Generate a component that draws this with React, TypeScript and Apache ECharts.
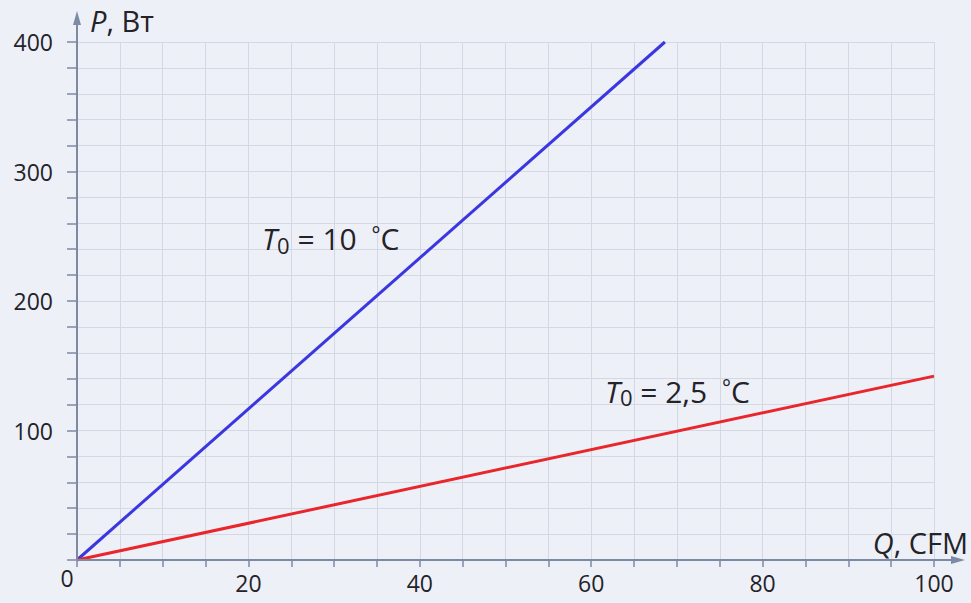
import React, { useEffect, useRef } from 'react';
import * as echarts from 'echarts';

// Data
const blueQ = [0, 68.6];
const blueP = [0, 400];
const redQ = [0, 100];
const redP = [0, 142];
const xLabelValues = [20, 40, 60, 80, 100];
const yLabelValues = [100, 200, 300, 400];
const blueLabel = '{i|T}{s|0}{n| = 10 }{d|°}{n|C}';
const redLabel = '{i|T}{s|0}{n| = 2,5 }{d|°}{n|C}';

const FONT = '"Open Sans", "Noto Sans", sans-serif';
const AXIS = '#7d8aa6';
const TEXT = '#232328';

export default function App() {
  const ref = useRef<HTMLDivElement>(null);
  useEffect(() => {
    if (!ref.current) return;
    const chart = echarts.init(ref.current, null, { renderer: 'svg' });
    chart.setOption({
      animation: false,
      backgroundColor: '#eef0f8',
      textStyle: { fontFamily: FONT },
      grid: { left: 77, right: 37, top: 42, bottom: 43 },
      xAxis: {
        type: 'value', min: 0, max: 100, interval: 5,
        axisLine: { show: false },
        axisTick: { show: true, length: 7, lineStyle: { color: AXIS, width: 1.5 } },
        axisLabel: {
          margin: 11, fontSize: 23, color: TEXT, fontFamily: FONT,
          formatter: (v: number) => (xLabelValues.includes(v) ? String(v) : ''),
        },
        splitLine: { show: true, lineStyle: { color: '#d4d8e5', width: 1 } },
      },
      yAxis: {
        type: 'value', min: 0, max: 400, interval: 20,
        axisLine: { show: false },
        axisTick: { show: true, length: 10, lineStyle: { color: AXIS, width: 1.5 } },
        axisLabel: {
          margin: 24, fontSize: 23, color: TEXT, fontFamily: FONT,
          formatter: (v: number) => (yLabelValues.includes(v) ? String(v) : ''),
        },
        splitLine: { show: true, lineStyle: { color: '#d4d8e5', width: 1 } },
      },
      series: [
        {
          type: 'line', data: blueQ.map((q, i) => [q, blueP[i]]),
          symbol: 'none', lineStyle: { color: '#3a37e0', width: 3 }, z: 5,
        },
        {
          type: 'line', data: redQ.map((q, i) => [q, redP[i]]),
          symbol: 'none', lineStyle: { color: '#e8262b', width: 3 }, z: 5,
        },
      ],
    });
    const o = chart.convertToPixel({ gridIndex: 0 }, [0, 0]) as number[];
    const tr = chart.convertToPixel({ gridIndex: 0 }, [100, 400]) as number[];
    const a1 = chart.convertToPixel({ gridIndex: 0 }, [21.6, 248]) as number[];
    const a2 = chart.convertToPixel({ gridIndex: 0 }, [61.6, 130.5]) as number[];
    const yTip = tr[1] - 31;
    const xTip = tr[0] + 31;
    const mk = (size: number) => ({
      i: { fontStyle: 'italic', fontSize: size, fontFamily: FONT, fill: TEXT, color: TEXT },
      s: { fontSize: Math.round(size * 0.72), fontFamily: FONT, fill: TEXT, color: TEXT, padding: [Math.round(size * 0.4), 0, 0, 0] },
      n: { fontSize: size, fontFamily: FONT, fill: TEXT, color: TEXT },
      d: { fontSize: Math.round(size * 0.7), fontFamily: FONT, fill: TEXT, color: TEXT, padding: [0, 0, Math.round(size * 0.3), 7] },
    });
    const richAnn = mk(30);
    const richName = mk(29);
    chart.setOption({
      graphic: [
        { type: 'line', shape: { x1: o[0], y1: o[1], x2: o[0], y2: yTip + 8 }, style: { stroke: AXIS, lineWidth: 2 }, z: 10 },
        { type: 'polygon', shape: { points: [[o[0], yTip], [o[0] - 4, yTip + 14], [o[0] + 4, yTip + 14]] }, style: { fill: AXIS }, z: 10 },
        { type: 'line', shape: { x1: o[0], y1: o[1], x2: xTip - 8, y2: o[1] }, style: { stroke: AXIS, lineWidth: 2 }, z: 10 },
        { type: 'polygon', shape: { points: [[xTip, o[1]], [xTip - 14, o[1] - 4], [xTip - 14, o[1] + 4]] }, style: { fill: AXIS }, z: 10 },
        {
          type: 'text', x: o[0] + 13, y: tr[1] - 22, z: 10,
          style: { text: '{i|P}{n|, Вт}', rich: richName, verticalAlign: 'middle', align: 'left' },
        },
        {
          type: 'text', x: xTip + 3, y: o[1] - 18, z: 10,
          style: { text: '{i|Q}{n|, CFM}', rich: richName, verticalAlign: 'middle', align: 'right' },
        },
        {
          type: 'text', x: o[0] - 10, y: o[1] + 18, z: 10,
          style: { text: '0', fontSize: 23, fontFamily: FONT, fill: TEXT, align: 'center', verticalAlign: 'middle' },
        },
        {
          type: 'text', x: a1[0], y: a1[1], z: 10,
          style: { text: blueLabel, rich: richAnn, verticalAlign: 'middle', align: 'left' },
        },
        {
          type: 'text', x: a2[0], y: a2[1], z: 10,
          style: { text: redLabel, rich: richAnn, verticalAlign: 'middle', align: 'left' },
        },
      ],
    });
    return () => chart.dispose();
  }, []);
  return <div ref={ref} style={{ position: 'absolute', left: 0, top: 0, width: 971, height: 603 }} />;
}
